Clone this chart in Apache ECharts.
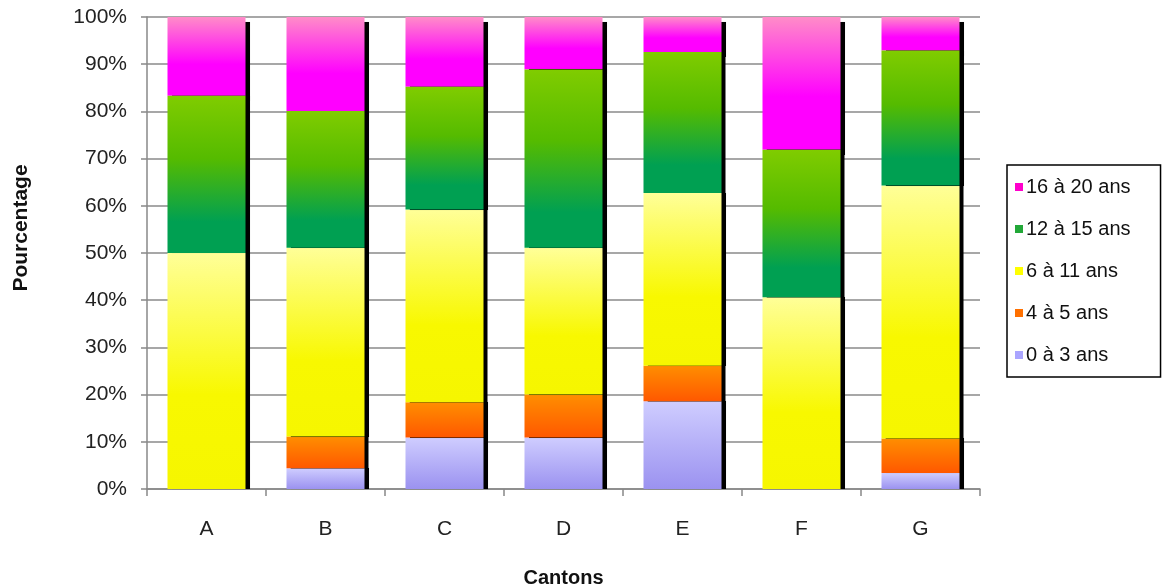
<!DOCTYPE html>
<html>
<head>
<meta charset="utf-8">
<script src="https://cdn.jsdelivr.net/npm/echarts@6/dist/echarts.min.js"></script>
<style>html,body{margin:0;padding:0;background:#fff}#c{width:1163px;height:588px}</style>
</head>
<body>
<div id="c"></div>
<script>
const categories = ['A','B','C','D','E','F','G'];
const seriesNames = ['0 à 3 ans','4 à 5 ans','6 à 11 ans','12 à 15 ans','16 à 20 ans'];
const age0to3   = [0,    4.4, 10.9, 10.9, 18.6, 0,    3.4];
const age4to5   = [0,    6.7,  7.5,  9.1,  7.5, 0,    7.3];
const age6to11  = [50.0, 40.0, 40.8, 31.1, 36.6, 40.6, 53.6];
const age12to15 = [33.3, 29.0, 26.0, 37.8, 29.9, 31.3, 28.6];
const age16to20 = [16.7, 19.9, 14.8, 11.1, 7.4, 28.1, 7.1];
const yTickLabels = ['0%','10%','20%','30%','40%','50%','60%','70%','80%','90%','100%'];

const values = [age0to3, age4to5, age6to11, age12to15, age16to20];
const grads = [
  [[0,'#cfcdff'],[1,'#9b92f0']],
  [[0,'#ff8e00'],[1,'#ff5800']],
  [[0,'#ffff98'],[0.6,'#f8f800'],[1,'#f6f600']],
  [[0,'#80cc00'],[0.4,'#55bb00'],[0.8,'#00a052'],[1,'#00a052']],
  [[0,'#ff8cc8'],[0.6,'#ff00ff'],[1,'#ff00ff']]
];
const legendColors = ['#aaa5ff','#ff7000','#ffff00','#22a838','#ff00cc'];
const FONT = 'Liberation Sans, Arial, sans-serif';

const series = values.map((v,i)=>({
  name: seriesNames[i],
  type: 'bar',
  stack: 'total',
  barWidth: 78,
  z: i === 4 ? 1 : 2,
  data: v,
  itemStyle: {
    color: {type:'linear',x:0,y:0,x2:0,y2:1,colorStops: grads[i].map(s=>({offset:s[0],color:s[1]}))},
    shadowColor: '#000',
    shadowOffsetX: 4,
    shadowOffsetY: i === 4 ? 5 : 0,
    shadowBlur: 0.5
  },
  emphasis: {disabled: true}
}));

const chart = echarts.init(document.getElementById('c'));
chart.setOption({
  animation: false,
  grid: {left: 147, right: 183, top: 17, bottom: 99, outerBoundsMode: 'none', containLabel: false},
  legend: {
    orient: 'vertical',
    left: 1007, top: 165,
    padding: [12, 30, 12, 8],
    itemGap: 22,
    itemWidth: 8, itemHeight: 8,
    icon: 'rect',
    borderColor: '#000', borderWidth: 1.5,
    textStyle: {fontFamily: FONT, fontSize: 20, color: '#111', padding: [0,0,0,-2]},
    data: seriesNames.map((n,i)=>({name: n, itemStyle: {color: legendColors[i]}})).reverse()
  },
  xAxis: {
    type: 'category',
    data: categories,
    name: 'Cantons',
    nameLocation: 'middle',
    nameGap: 79,
    nameTextStyle: {fontFamily: FONT, fontSize: 20, fontWeight: 'bold', color: '#111'},
    axisLine: {lineStyle: {color: '#888', width: 1.5}},
    axisTick: {show: true, length: 7, lineStyle: {color: '#888', width: 1.5}},
    axisLabel: {fontFamily: FONT, fontSize: 21, color: '#222', margin: 30}
  },
  yAxis: {
    type: 'value',
    min: 0, max: 100, interval: 10,
    name: 'Pourcentage',
    nameLocation: 'middle',
    nameGap: 115,
    nameTextStyle: {fontFamily: FONT, fontSize: 21, fontWeight: 'bold', color: '#111', padding: [0,0,0,50]},
    axisLine: {show: true, lineStyle: {color: '#888', width: 1.5}},
    axisTick: {show: true, length: 6, lineStyle: {color: '#888', width: 1.5}},
    splitLine: {lineStyle: {color: '#8a8a8a', width: 1.5}},
    axisLabel: {fontFamily: FONT, fontSize: 21, color: '#222', margin: 20,
      formatter: (val)=> yTickLabels[Math.round(val/10)]}
  },
  series: series
});
</script>
</body>
</html>
